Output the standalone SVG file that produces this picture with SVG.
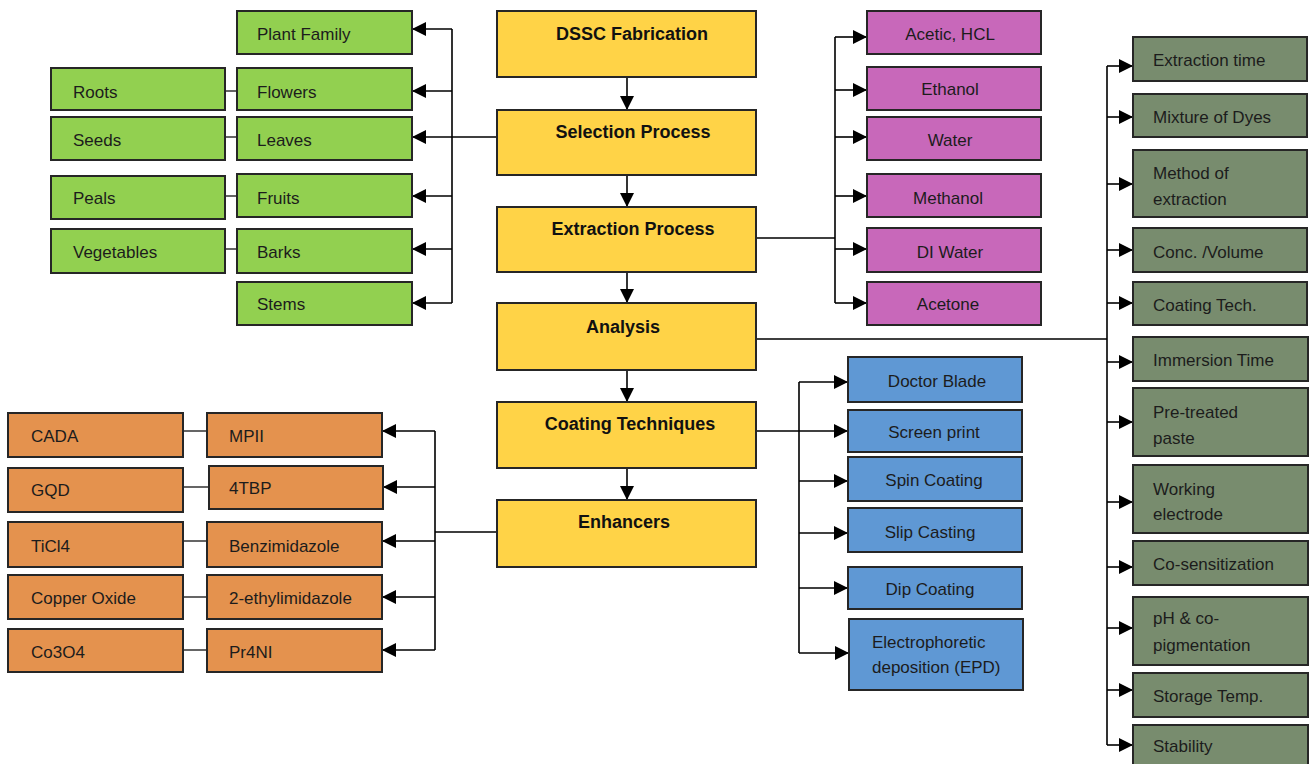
<svg xmlns="http://www.w3.org/2000/svg" width="1310" height="764" viewBox="0 0 1310 764">
<defs>
<marker id="ah" markerUnits="userSpaceOnUse" markerWidth="14" markerHeight="14" refX="14" refY="7" orient="auto">
<path d="M0,0 L14,7 L0,14 z" fill="#000"/>
</marker>
<style>
rect{stroke:#262626;stroke-width:2}
.y{fill:#FFD347}.g{fill:#92D050}.p{fill:#C868BA}.o{fill:#E4924E}.b{fill:#5F98D4}.s{fill:#788C6E}
text{font-family:"Liberation Sans",Arial,sans-serif;font-size:17px;fill:#1c1c1c}
.t{font-weight:bold;font-size:18px;text-anchor:middle;fill:#111}
.c{text-anchor:middle}
.ln{fill:none;stroke:#000;stroke-width:1.6}
.ar{fill:none;stroke:#000;stroke-width:1.6;marker-end:url(#ah)}
.pl{fill:none;stroke:#333;stroke-width:1.5}
</style>
</defs>
<rect width="1310" height="764" fill="#fff" style="stroke:none"/>

<g id="connectors">
<path class="ar" d="M627,77 L627,110"/>
<path class="ar" d="M627,175 L627,207"/>
<path class="ar" d="M627,272 L627,303"/>
<path class="ar" d="M627,370 L627,402"/>
<path class="ar" d="M627,468 L627,500"/>
<path class="ln" d="M497,137 L452,137 M452,29 L452,303"/>
<path class="ar" d="M452,29 L412,29"/>
<path class="ar" d="M452,91 L412,91"/>
<path class="ar" d="M452,137 L412,137"/>
<path class="ar" d="M452,196 L412,196"/>
<path class="ar" d="M452,249 L412,249"/>
<path class="ar" d="M452,303 L412,303"/>
<path class="pl" d="M225,91 L237,91 M225,137 L237,137 M225,196 L237,196 M225,249 L237,249"/>
<path class="ln" d="M756,238 L835,238 M835,37 L835,303"/>
<path class="ar" d="M835,37 L867,37"/>
<path class="ar" d="M835,90 L867,90"/>
<path class="ar" d="M835,137 L867,137"/>
<path class="ar" d="M835,196 L867,196"/>
<path class="ar" d="M835,249 L867,249"/>
<path class="ar" d="M835,303 L867,303"/>
<path class="ln" d="M756,339 L1107,339 M1107,66 L1107,745"/>
<path class="ar" d="M1107,66 L1133,66"/>
<path class="ar" d="M1107,117 L1133,117"/>
<path class="ar" d="M1107,184 L1133,184"/>
<path class="ar" d="M1107,250 L1133,250"/>
<path class="ar" d="M1107,303 L1133,303"/>
<path class="ar" d="M1107,362 L1133,362"/>
<path class="ar" d="M1107,422 L1133,422"/>
<path class="ar" d="M1107,502 L1133,502"/>
<path class="ar" d="M1107,567 L1133,567"/>
<path class="ar" d="M1107,628 L1133,628"/>
<path class="ar" d="M1107,690 L1133,690"/>
<path class="ar" d="M1107,745 L1133,745"/>
<path class="ln" d="M756,431 L799,431 M799,382 L799,653"/>
<path class="ar" d="M799,382 L848,382"/>
<path class="ar" d="M799,431 L848,431"/>
<path class="ar" d="M799,481 L848,481"/>
<path class="ar" d="M799,533 L848,533"/>
<path class="ar" d="M799,588 L848,588"/>
<path class="ar" d="M799,653 L849,653"/>
<path class="ln" d="M497,532 L435,532 M435,431 L435,650"/>
<path class="ar" d="M435,431 L382,431"/>
<path class="ar" d="M435,487 L383,487"/>
<path class="ar" d="M435,541 L382,541"/>
<path class="ar" d="M435,597 L382,597"/>
<path class="ar" d="M435,650 L382,650"/>
<path class="pl" d="M183,431 L207,431 M183,487 L209,487 M183,541 L207,541 M183,597 L207,597 M183,650 L207,650"/>
</g>

<g id="dssc"><rect class="y" x="497" y="11" width="259" height="66"/><text class="t" x="632" y="40">DSSC Fabrication</text></g>
<g id="selection"><rect class="y" x="497" y="110" width="259" height="65"/><text class="t" x="633" y="138">Selection Process</text></g>
<g id="extraction"><rect class="y" x="497" y="207" width="259" height="65"/><text class="t" x="633" y="235">Extraction Process</text></g>
<g id="analysis"><rect class="y" x="497" y="303" width="259" height="67"/><text class="t" x="623" y="333">Analysis</text></g>
<g id="coating"><rect class="y" x="497" y="402" width="259" height="66"/><text class="t" x="630" y="430">Coating Techniques</text></g>
<g id="enhancers"><rect class="y" x="497" y="500" width="259" height="67"/><text class="t" x="624" y="528">Enhancers</text></g>

<g id="plant-family"><rect class="g" x="237" y="11" width="175" height="43"/><text x="257" y="40">Plant Family</text></g>
<g id="flowers"><rect class="g" x="237" y="68" width="175" height="42"/><text x="257" y="98">Flowers</text></g>
<g id="leaves"><rect class="g" x="237" y="117" width="175" height="43"/><text x="257" y="146">Leaves</text></g>
<g id="fruits"><rect class="g" x="237" y="174" width="175" height="43"/><text x="257" y="204">Fruits</text></g>
<g id="barks"><rect class="g" x="237" y="229" width="175" height="44"/><text x="257" y="258">Barks</text></g>
<g id="stems"><rect class="g" x="237" y="282" width="175" height="43"/><text x="257" y="310">Stems</text></g>
<g id="roots"><rect class="g" x="51" y="68" width="174" height="42"/><text x="73" y="98">Roots</text></g>
<g id="seeds"><rect class="g" x="51" y="117" width="174" height="43"/><text x="73" y="146">Seeds</text></g>
<g id="peals"><rect class="g" x="51" y="176" width="174" height="43"/><text x="73" y="204">Peals</text></g>
<g id="vegetables"><rect class="g" x="51" y="229" width="174" height="44"/><text x="73" y="258">Vegetables</text></g>

<g id="acetic"><rect class="p" x="867" y="11" width="174" height="43"/><text class="c" x="950" y="40">Acetic, HCL</text></g>
<g id="ethanol"><rect class="p" x="867" y="67" width="174" height="43"/><text class="c" x="950" y="95">Ethanol</text></g>
<g id="water"><rect class="p" x="867" y="117" width="174" height="43"/><text class="c" x="950" y="146">Water</text></g>
<g id="methanol"><rect class="p" x="867" y="174" width="174" height="43"/><text class="c" x="948" y="204">Methanol</text></g>
<g id="di-water"><rect class="p" x="867" y="228" width="174" height="44"/><text class="c" x="950" y="258">DI Water</text></g>
<g id="acetone"><rect class="p" x="867" y="282" width="174" height="43"/><text class="c" x="948" y="310">Acetone</text></g>

<g id="extraction-time"><rect class="s" x="1133" y="37" width="174" height="44"/><text x="1153" y="66">Extraction time</text></g>
<g id="mixture"><rect class="s" x="1133" y="94" width="174" height="43"/><text x="1153" y="123">Mixture of Dyes</text></g>
<g id="method"><rect class="s" x="1133" y="150" width="174" height="67"/><text x="1153" y="179">Method of</text><text x="1153" y="205">extraction</text></g>
<g id="conc"><rect class="s" x="1133" y="228" width="174" height="44"/><text x="1153" y="258">Conc. /Volume</text></g>
<g id="coating-tech"><rect class="s" x="1133" y="282" width="174" height="43"/><text x="1153" y="311">Coating Tech.</text></g>
<g id="immersion"><rect class="s" x="1133" y="337" width="175" height="44"/><text x="1153" y="366">Immersion Time</text></g>
<g id="pretreated"><rect class="s" x="1133" y="388" width="175" height="68"/><text x="1153" y="418">Pre-treated</text><text x="1153" y="444">paste</text></g>
<g id="working"><rect class="s" x="1133" y="465" width="175" height="68"/><text x="1153" y="495">Working</text><text x="1153" y="520">electrode</text></g>
<g id="cosens"><rect class="s" x="1133" y="541" width="175" height="44"/><text x="1153" y="570">Co-sensitization</text></g>
<g id="ph"><rect class="s" x="1133" y="597" width="175" height="68"/><text x="1153" y="624">pH &amp; co-</text><text x="1153" y="651">pigmentation</text></g>
<g id="storage"><rect class="s" x="1133" y="673" width="175" height="44"/><text x="1153" y="702">Storage Temp.</text></g>
<g id="stability"><rect class="s" x="1133" y="725" width="175" height="44"/><text x="1153" y="752">Stability</text></g>

<g id="doctor-blade"><rect class="b" x="848" y="357" width="174" height="45"/><text class="c" x="937" y="387">Doctor Blade</text></g>
<g id="screen-print"><rect class="b" x="848" y="410" width="174" height="42"/><text class="c" x="934" y="438">Screen print</text></g>
<g id="spin-coating"><rect class="b" x="848" y="457" width="174" height="44"/><text class="c" x="934" y="486">Spin Coating</text></g>
<g id="slip-casting"><rect class="b" x="848" y="508" width="174" height="44"/><text class="c" x="930" y="538">Slip Casting</text></g>
<g id="dip-coating"><rect class="b" x="848" y="567" width="174" height="42"/><text class="c" x="930" y="595">Dip Coating</text></g>
<g id="epd"><rect class="b" x="849" y="619" width="174" height="71"/><text x="872" y="648">Electrophoretic</text><text x="872" y="673">deposition (EPD)</text></g>

<g id="mpii"><rect class="o" x="207" y="413" width="175" height="44"/><text x="229" y="442">MPII</text></g>
<g id="tbp"><rect class="o" x="209" y="466" width="174" height="43"/><text x="229" y="494">4TBP</text></g>
<g id="benz"><rect class="o" x="207" y="522" width="175" height="45"/><text x="229" y="552">Benzimidazole</text></g>
<g id="ethylimid"><rect class="o" x="207" y="575" width="175" height="44"/><text x="229" y="604">2-ethylimidazole</text></g>
<g id="pr4ni"><rect class="o" x="207" y="629" width="175" height="43"/><text x="229" y="658">Pr4NI</text></g>
<g id="cada"><rect class="o" x="8" y="413" width="175" height="44"/><text x="31" y="442">CADA</text></g>
<g id="gqd"><rect class="o" x="8" y="468" width="175" height="44"/><text x="31" y="496">GQD</text></g>
<g id="ticl4"><rect class="o" x="8" y="522" width="175" height="45"/><text x="31" y="552">TiCl4</text></g>
<g id="copper-oxide"><rect class="o" x="8" y="575" width="175" height="44"/><text x="31" y="604">Copper Oxide</text></g>
<g id="co3o4"><rect class="o" x="8" y="629" width="175" height="43"/><text x="31" y="658">Co3O4</text></g>
</svg>
